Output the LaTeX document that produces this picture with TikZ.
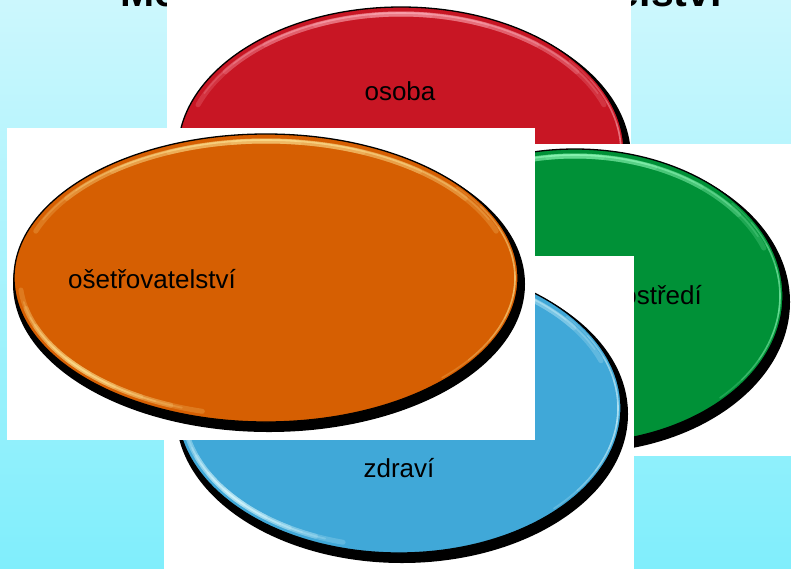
\documentclass[tikz,border=0pt]{standalone}
\usepackage{fontspec}
\setmainfont{Liberation Sans}
\definecolor{bgtop}{RGB}{204,247,253}
\definecolor{bgbot}{RGB}{128,238,252}
\definecolor{cred}{RGB}{200,22,36}
\definecolor{redhl}{RGB}{255,175,185}
\definecolor{cgreen}{RGB}{0,145,55}
\definecolor{greenhl}{RGB}{150,255,190}
\definecolor{cblue}{RGB}{64,168,216}
\definecolor{bluehl}{RGB}{225,252,255}
\definecolor{corange}{RGB}{214,95,2}
\definecolor{orangehl}{RGB}{255,230,150}
\tikzset{
  lbl/.style={font=\fontsize{26}{30}\selectfont, text=black, inner sep=0pt},
  backwhite/.style={fill=white},
}
% fading highlight arc: #1 cx, #2 cy, #3 rx, #4 ry, #5 inset, #6 start, #7 end, #8 colour, #9 width
\newcommand\hlarc[9]{%
  \foreach \k [evaluate=\k as \sa using {#6+\k*(#7-#6)/9},
               evaluate=\k as \sb using {#7-\k*(#7-#6)/9}] in {0,...,4}{%
    \draw[#8, line width=#9, opacity=.2, line cap=round]
      plot[domain=\sa:\sb, samples=50, smooth]
      ({#1+(#3-#5)*cos(\x)}, {#2+(#4-#5)*sin(\x)});
  }%
}
% #1 cx, #2 cy, #3 rx, #4 ry, #5 fill, #6 highlight
\newcommand\glossyell[6]{%
  \fill[black] ({#1+3},{#2+6}) ellipse [x radius={#3+4}, y radius={#4+4}];
  \fill[#5, draw=black, line width=1.3pt] (#1,#2) ellipse [x radius=#3, y radius=#4];
  \hlarc{#1}{#2}{#3}{#4}{7}{200}{340}{#6}{5pt}
  \hlarc{#1}{#2}{#3}{#4}{6}{205}{335}{#6}{1.6pt}
  \hlarc{#1}{#2}{#3}{#4}{3}{-40}{45}{#6}{1.6pt}
  \hlarc{#1}{#2}{#3}{#4}{6}{105}{175}{#6}{5pt}
  \hlarc{#1}{#2}{#3}{#4}{6}{110}{170}{#6}{1.8pt}
}
\begin{document}
\begin{tikzpicture}[x=1pt,y=-1pt]
\useasboundingbox (0,0) rectangle (791,568);
\clip (0,0) rectangle (791,568);
\shade[top color=bgtop, bottom color=bgbot] (0,0) rectangle (791,568);
\node[anchor=base, font=\bfseries\fontsize{41}{48}\selectfont, inner sep=0pt] (title) at (421,6) {Metaparadigma ošetřovatelství};
% osoba (red)
\fill[backwhite] (167,-5) rectangle (631,300);
\glossyell{401}{152}{223}{145}{cred}{redhl}
\node[lbl, anchor=base] (osoba) at (400,100) {osoba};
% prostredi (green)
\fill[backwhite] (500,144) rectangle (791,456);
\glossyell{575}{296}{208}{147}{cgreen}{greenhl}
\node[lbl, anchor=base east] (prostredi) at (702,304) {prostředí};
% zdravi (blue)
\fill[backwhite] (164,256) rectangle (634,575);
\glossyell{399}{408}{222}{145}{cblue}{bluehl}
\node[lbl, anchor=base] (zdravi) at (399,477) {zdraví};
% osetrovatelstvi (orange)
\fill[backwhite] (7,128) rectangle (535,440);
\glossyell{266}{278}{252}{144}{corange}{orangehl}
\node[lbl, anchor=base west] (osetr) at (68,288) {ošetřovatelství};
\end{tikzpicture}
\end{document}
